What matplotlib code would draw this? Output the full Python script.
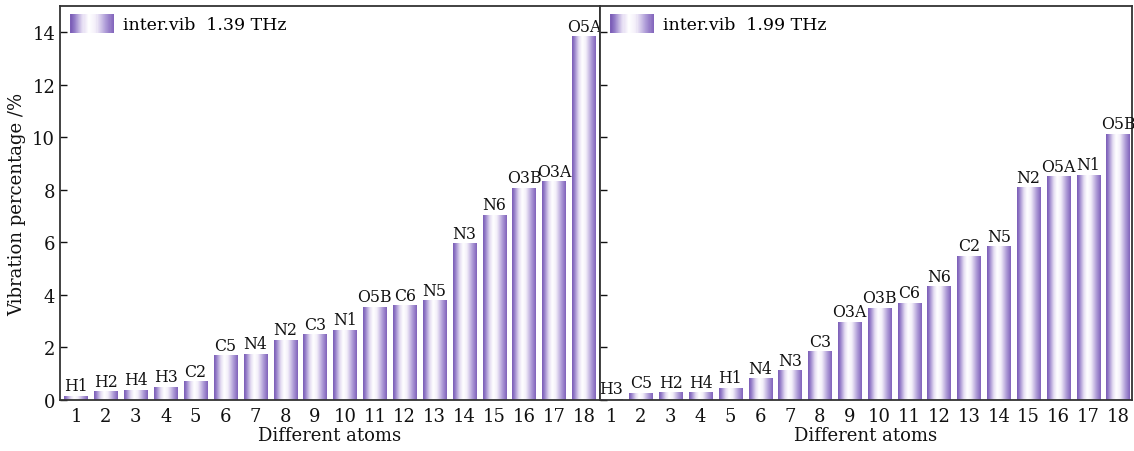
import numpy as np
import matplotlib.pyplot as plt
from matplotlib.colors import LinearSegmentedColormap
from matplotlib.legend_handler import HandlerBase
from matplotlib.patches import Rectangle

plt.rcParams['font.family'] = ['DejaVu Serif']

# data
positions = list(range(1, 19))
atoms_139 = ['H1', 'H2', 'H4', 'H3', 'C2', 'C5', 'N4', 'N2', 'C3', 'N1',
             'O5B', 'C6', 'N5', 'N3', 'N6', 'O3B', 'O3A', 'O5A']
vals_139 = [0.16, 0.33, 0.39, 0.51, 0.71, 1.71, 1.76, 2.29, 2.50, 2.67,
            3.55, 3.61, 3.80, 5.96, 7.06, 8.07, 8.33, 13.85]
atoms_199 = ['H3', 'C5', 'H2', 'H4', 'H1', 'N4', 'N3', 'C3', 'O3A', 'O3B',
             'C6', 'N6', 'C2', 'N5', 'N2', 'O5A', 'N1', 'O5B']
vals_199 = [0.05, 0.28, 0.30, 0.29, 0.47, 0.83, 1.13, 1.85, 2.97, 3.50,
            3.69, 4.33, 5.48, 5.86, 8.10, 8.52, 8.58, 10.13]

cmap = LinearSegmentedColormap.from_list(
    'bar', [(0, '#7a5cb6'), (0.08, '#9078c6'), (0.28, '#e4dcf2'),
            (0.42, '#ffffff'), (0.58, '#f4f0fa'), (0.82, '#ae9bd7'),
            (1, '#8163bb')])
grad = np.linspace(0, 1, 64).reshape(1, -1)


class GradHandler(HandlerBase):
    def create_artists(self, legend, orig_handle, xdescent, ydescent,
                       width, height, fontsize, trans):
        n = 40
        out = []
        for i in range(n):
            r = Rectangle((-xdescent + width * i / n, -ydescent - 0.3 * height),
                          width / n + 0.3, height * 1.6,
                          facecolor=cmap((i + 0.5) / n), edgecolor='none',
                          transform=trans)
            out.append(r)
        return out


def draw_panel(ax, labels, vals, freq, xlim):
    bars = ax.bar(positions, vals, width=0.78, color='none', edgecolor='none')
    for b, lab in zip(bars, labels):
        x0 = b.get_x()
        x1 = x0 + b.get_width()
        h = b.get_height()
        im = ax.imshow(grad, extent=[x0, x1, 0, h], aspect='auto', cmap=cmap,
                       interpolation='bicubic', zorder=2)
        im.set_clip_path(b)
        ax.text(b.get_x() + b.get_width() / 2, h + 0.06, lab, ha='center',
                va='bottom', fontsize=11.3, color='#111111')
    ax.set_xlim(*xlim)
    ax.set_ylim(0, 15)
    ax.set_xticks(positions)
    ax.set_yticks([0, 2, 4, 6, 8, 10, 12, 14])
    ax.tick_params(axis='x', length=0, pad=5, labelsize=13, colors='#111111')
    ax.tick_params(axis='y', direction='in', length=5, width=1, labelsize=13,
                   colors='#111111')
    for s in ax.spines.values():
        s.set_color('#333333')
        s.set_linewidth(1.3)
    ax.set_xlabel('Different atoms', fontsize=13, labelpad=1, color='#111111')
    h = Rectangle((0, 0), 1, 1)
    ax.legend([h], ['inter.vib  ' + freq + ' THz'], handler_map={Rectangle: GradHandler()},
              loc='upper left', frameon=False, fontsize=12.5, handlelength=2.5,
              handletextpad=0.55, borderaxespad=0.3, borderpad=0.3)


fig = plt.figure(figsize=(11.34, 4.52), dpi=100)
ax1 = fig.add_axes([60 / 1134, 51 / 452, 540 / 1134, 394 / 452])
ax2 = fig.add_axes([600 / 1134, 51 / 452, 532 / 1134, 394 / 452])

draw_panel(ax1, atoms_139, vals_139, '1.39', (0.46, 18.54))
draw_panel(ax2, atoms_199, vals_199, '1.99', (0.63, 18.47))
ax2.set_yticklabels([])
ax1.set_ylabel('Vibration percentage /%', fontsize=13, labelpad=4, color='#111111')

fig.savefig('out.png', dpi=100)
